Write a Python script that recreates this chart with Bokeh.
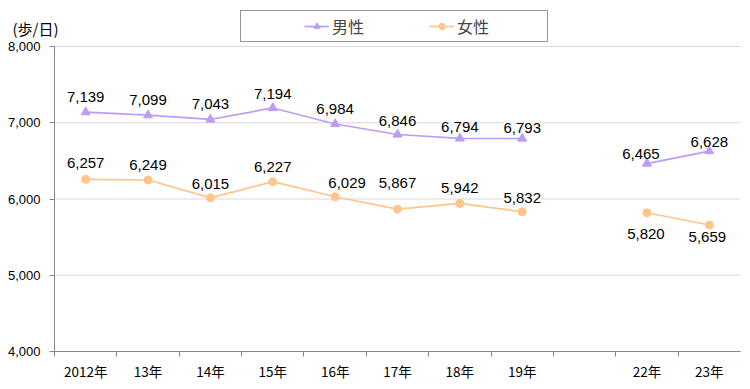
from bokeh.plotting import figure
from bokeh.models import (ColumnDataSource, Range1d, FixedTicker, Legend, LabelSet,
                          Label, NumeralTickFormatter, LinearAxis)
from bokeh.core.properties import value
from bokeh.embed import file_html
from bokeh.resources import INLINE
import numpy as np

# ---- data ----
categories = ["2012年", "13年", "14年", "15年", "16年", "17年", "18年", "19年", "", "22年", "23年"]
male = [7139, 7099, 7043, 7194, 6984, 6846, 6794, 6793, None, 6465, 6628]
female = [6257, 6249, 6015, 6227, 6029, 5867, 5942, 5832, None, 5820, 5659]
y_ticks = [4000, 5000, 6000, 7000, 8000]
unit_label = "(歩/日)"

# ---- label placement (screen px offsets) ----
male_dx = [0, 0, 0, 0, 0, 0, 0, 0, 0, -6, 0]
male_dy = [15, 15, 15, 14, 15, 13, 11, 11, 0, 10, 9]
female_dx = [0, 0, 0, 0, 12, 0, 0, 0, 0, -1, -2]
female_dy = [16, 15, 14, 15, 14, 26, 15, 14, 0, -21, -12]

MALE_C = "#BC9CF5"
FEMALE_C = "#FFC58C"
AXIS_C = "#868686"

# ---- layout (pixels) ----
W, H = 750, 389
PL, PR, PT, PB = 54, 740, 46, 351   # plot area edges on the canvas

n = len(categories)
xs = [i + 0.5 for i in range(n)]
ymin, ymax = y_ticks[0], y_ticks[-1]
xpx = (PR - PL) / n
ypx = (PB - PT) / (ymax - ymin)
x_range = Range1d(-PL / xpx, n + (W - PR) / xpx)
y_range = Range1d(ymin - (H - PB) / ypx, ymax + PT / ypx)

to_arr = lambda a: np.array([np.nan if v is None else v for v in a], dtype=float)
src = ColumnDataSource(dict(x=xs, male=to_arr(male), female=to_arr(female)))

def label_src(vals, dx, dy):
    d = dict(x=[], y=[], text=[], dx=[], dy=[])
    for i, v in enumerate(vals):
        if v is None:
            continue
        d["x"].append(xs[i]); d["y"].append(v); d["text"].append(f"{v:,}")
        d["dx"].append(dx[i]); d["dy"].append(dy[i])
    return ColumnDataSource(d)

p = figure(output_backend="svg", toolbar_location=None, width=W, height=H,
           x_range=x_range, y_range=y_range, min_border=0,
           x_axis_location=None, y_axis_location=None)
p.outline_line_color = None
p.background_fill_color = "white"
p.xgrid.visible = False
p.ygrid.visible = False

# gridlines across the plot area only
gy = y_ticks[1:]
p.segment(x0=[0] * len(gy), x1=[n] * len(gy), y0=gy, y1=gy,
          line_color="#D9D9D9", line_width=1)

ml = p.line("x", "male", source=src, line_color=MALE_C, line_width=1.7)
ms = p.scatter("x", "male", source=src, marker="triangle", size=9,
               fill_color=MALE_C, line_color=MALE_C)
fl = p.line("x", "female", source=src, line_color=FEMALE_C, line_width=1.7)
fs = p.scatter("x", "female", source=src, marker="circle", size=8,
               fill_color=FEMALE_C, line_color=FEMALE_C)

for vals, dx, dy in ((male, male_dx, male_dy), (female, female_dx, female_dy)):
    ls = LabelSet(x="x", y="y", text="text", x_offset="dx", y_offset="dy",
                  source=label_src(vals, dx, dy), text_align="center",
                  text_baseline="middle", text_font=value("Liberation Sans"),
                  text_font_size=value("15px"), text_color="black",
                  background_fill_color="white")
    p.add_layout(ls)

# axes
yaxis = LinearAxis(fixed_location=0, bounds=(ymin, ymax),
                   ticker=FixedTicker(ticks=y_ticks),
                   formatter=NumeralTickFormatter(format="0,0"))
yaxis.axis_line_color = AXIS_C
yaxis.major_tick_line_color = AXIS_C
yaxis.major_tick_out = 5
yaxis.major_tick_in = 0
yaxis.minor_tick_line_color = None
yaxis.major_label_standoff = 9
yaxis.major_label_text_font = "Liberation Sans"
yaxis.major_label_text_font_size = "13px"
yaxis.major_label_text_color = "black"
p.add_layout(yaxis, "left")

xaxis = LinearAxis(fixed_location=ymin, bounds=(0, n),
                   ticker=FixedTicker(ticks=xs, minor_ticks=list(range(0, n))))
xaxis.major_label_overrides = {x: c for x, c in zip(xs, categories)}
xaxis.axis_line_color = AXIS_C
xaxis.major_tick_line_color = None
xaxis.major_tick_out = 0
xaxis.major_tick_in = 0
xaxis.minor_tick_line_color = AXIS_C
xaxis.minor_tick_out = 5
xaxis.minor_tick_in = 0
xaxis.major_label_standoff = 4
xaxis.major_label_text_font = "Noto Sans CJK JP"
xaxis.major_label_text_font_size = "13.5px"
xaxis.major_label_text_color = "black"
p.add_layout(xaxis, "below")

# unit label
p.add_layout(Label(x=12, y=H - 28, x_units="screen", y_units="screen", text=unit_label,
                   text_font="Noto Sans CJK JP", text_font_size="15px",
                   text_baseline="middle", text_align="left", text_color="black"))

legend = Legend(items=[("男性", [ml, ms]), ("女性", [fl, fs])], orientation="horizontal",
                location=(240, H - 42), border_line_color="#303030", border_line_width=1,
                padding=3, spacing=10, label_width=87, glyph_width=25, glyph_height=16,
                label_height=16, label_standoff=3, label_text_font="Noto Sans CJK JP",
                label_text_font_size="16px", margin=0, title=" ", title_location="left",
                title_standoff=59, title_text_font_size="1px")
p.add_layout(legend)

open("out.html", "w").write(file_html(p, INLINE))
